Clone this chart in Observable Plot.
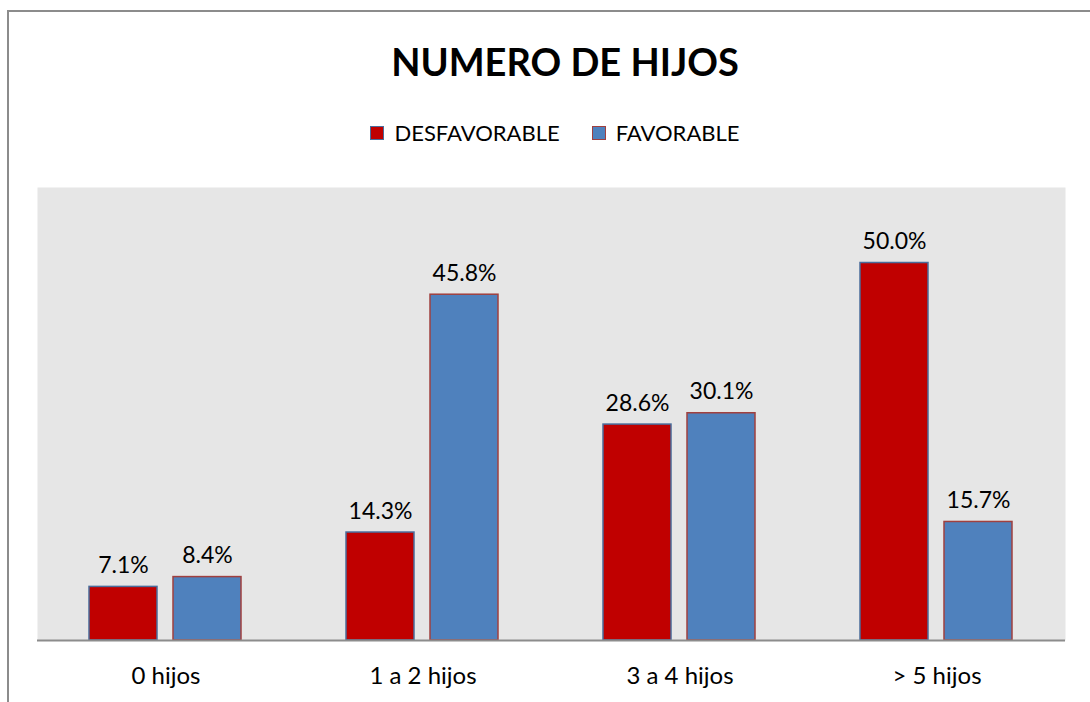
<!DOCTYPE html>
<html>
<head>
<meta charset="utf-8">
<script src="https://cdn.jsdelivr.net/npm/d3@7"></script>
<script src="https://cdn.jsdelivr.net/npm/@observablehq/plot@0.6"></script>
<style>
  html, body { margin: 0; padding: 0; background: #fff; width: 1090px; height: 702px; overflow: hidden; }
  body { font-family: Lato, "Open Sans", sans-serif; position: relative; }
  #frame { position: absolute; left: 7px; top: 10px; width: 1200px; height: 800px; border: 2px solid #8c8c8c; box-sizing: border-box; }
  #title { position: absolute; left: 0; width: 1130px; top: 38px; text-align: center; font-weight: bold; font-size: 38px; line-height: 46px; color: #000; }
  #legend { position: absolute; left: 0; width: 1110px; top: 119px; display: flex; justify-content: center; align-items: center; font-size: 22px; line-height: 28px; color: #000; }
  .item { display: flex; align-items: center; margin: 0 16px; }
  .sw { width: 14px; height: 14px; margin-right: 10px; border: 1.5px solid; box-sizing: border-box; }
  #chart { position: absolute; left: 0; top: 150px; }
</style>
</head>
<body>
<div id="frame"></div>
<div id="title"></div>
<div id="legend"></div>
<div id="chart"></div>
<script>
const title = "NUMERO DE HIJOS";
const categories = ["0 hijos", "1 a 2 hijos", "3 a 4 hijos", "> 5 hijos"];
const series = ["DESFAVORABLE", "FAVORABLE"];
const desfavorable = [7.1, 14.3, 28.6, 50.0];
const favorable = [8.4, 45.8, 30.1, 15.7];
const fills = ["#c00000", "#4f81bd"];
const strokes = ["#4a6c9b", "#a0403f"];

const data = [];
categories.forEach((c, i) => {
  data.push({cat: c, s: series[0], v: desfavorable[i]});
  data.push({cat: c, s: series[1], v: favorable[i]});
});

document.getElementById("title").textContent = title;
const leg = document.getElementById("legend");
series.forEach((s, i) => {
  const it = document.createElement("div");
  it.className = "item";
  const sw = document.createElement("span");
  sw.className = "sw";
  sw.style.background = fills[i];
  sw.style.borderColor = strokes[i];
  const t = document.createElement("span");
  t.textContent = s;
  it.appendChild(sw); it.appendChild(t);
  leg.appendChild(it);
});

const chart = Plot.plot({
  width: 1090,
  height: 552,
  marginTop: 37,
  marginBottom: 62,
  marginLeft: 37,
  marginRight: 25,
  style: {fontFamily: "Lato, 'Open Sans', sans-serif", fontSize: "19px", color: "#000", background: "transparent"},
  fx: {domain: categories, padding: 0, label: null},
  x: {domain: series, paddingInner: 0.188, paddingOuter: 0.612, axis: null},
  y: {domain: [0, 60], axis: null},
  color: {domain: series, range: fills},
  marks: [
    Plot.frame({fill: "#e6e6e6", stroke: null, facet: "super"}),
    Plot.barY(data, {fx: "cat", x: "s", y: "v", fill: "s", stroke: d => strokes[series.indexOf(d.s)], strokeWidth: 1.5}),
    Plot.text(data, {fx: "cat", x: "s", y: "v", text: d => d.v.toFixed(1) + "%", lineAnchor: "bottom", dy: -14, fontSize: 23, fill: "#000"}),
    Plot.ruleY([0], {stroke: "#8c8c8c", strokeWidth: 2}),
    Plot.axisFx({tickSize: 0, tickPadding: 26, fontSize: 24, label: null, anchor: "bottom"})
  ]
});
document.getElementById("chart").appendChild(chart);
</script>
</body>
</html>
